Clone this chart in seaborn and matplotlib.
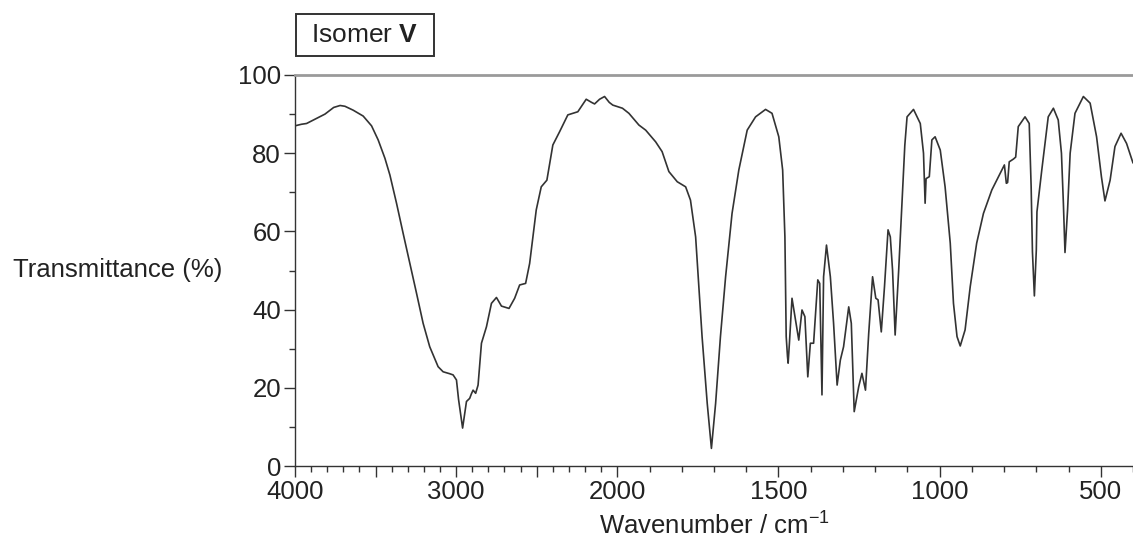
import numpy as np
import matplotlib
matplotlib.use("Agg")
import matplotlib.pyplot as plt
from matplotlib.patches import Rectangle
import seaborn as sns
import pandas as pd

# ---- data ----
wavenumber = [
    4000, 3960, 3928, 3876, 3814, 3760, 3720, 3690, 3639, 3577, 3525, 3484, 3442, 3411,
    3370, 3329, 3287, 3246, 3205, 3164, 3112, 3081, 3040, 3019, 2998, 2985, 2960, 2945,
    2936, 2916, 2905, 2895, 2879, 2864, 2843, 2812, 2781, 2750, 2719, 2672, 2637, 2606,
    2569, 2544, 2503, 2472, 2437, 2400, 2358, 2307, 2245, 2193, 2160, 2141, 2110, 2079,
    2050, 2028,
    1984, 1964, 1933, 1912, 1881, 1861, 1840, 1814, 1788, 1773, 1757, 1747, 1737, 1721,
    1708, 1695, 1680, 1664, 1644, 1623, 1597, 1571, 1540, 1520, 1499, 1487, 1480, 1476,
    1472, 1470, 1466, 1458, 1447, 1437, 1427, 1418, 1409, 1401, 1391, 1378, 1372, 1365,
    1360, 1351, 1339, 1329, 1318, 1308, 1298, 1282, 1274, 1265, 1251, 1241, 1230, 1220,
    1208, 1198, 1191, 1181, 1171, 1160, 1153, 1146, 1138, 1127, 1118, 1108, 1101, 1081,
    1060, 1050, 1047, 1045, 1042, 1032, 1024, 1014, 998, 983, 967, 957, 946, 936, 921,
    905, 885, 864, 838, 812, 799, 793, 789, 784, 771, 764, 756, 735, 722, 716, 712, 706,
    700, 698, 683, 663, 647, 632, 622, 616, 611, 603, 595, 580, 554, 533, 513, 498, 487,
    471, 456, 437, 420, 400,
]
transmittance = [
    87.0, 87.4, 87.6, 88.7, 90.0, 91.7, 92.2, 92.0, 91.0, 89.5, 87.0, 83.4, 78.7, 74.4,
    67.2, 59.5, 51.8, 44.2, 36.5, 30.5, 25.4, 24.1, 23.6, 23.3, 22.0, 17.0, 9.7, 14.0,
    16.5, 17.3, 18.5, 19.4, 18.6, 20.7, 31.4, 35.6, 41.6, 43.1, 40.9, 40.3, 42.9, 46.3,
    46.7, 51.8, 65.5, 71.4, 73.1, 82.1, 85.5, 89.8, 90.6, 93.8, 93.0, 92.6, 93.8, 94.5,
    93.0, 92.3,
    91.5, 90.2, 87.2, 85.9, 82.9, 80.4, 75.3, 72.7, 71.4, 68.0, 58.6, 45.9, 33.1, 16.0,
    4.5, 16.0, 33.1, 48.4, 64.6, 75.7, 85.9, 89.3, 91.2, 90.2, 84.2, 75.7, 58.6, 33.1,
    28.0, 26.3, 31.4, 42.9, 37.3, 32.2, 39.9, 38.2, 22.8, 31.4, 31.4, 47.6, 46.7, 18.2,
    48.4, 56.5, 48.4, 36.5, 20.7, 27.1, 30.5, 40.7, 36.5, 13.9, 20.3, 23.7, 19.4, 33.9,
    48.4, 42.9, 42.5, 34.3, 45.9, 60.4, 58.6, 50.1, 33.5, 50.1, 65.0, 82.0, 89.3, 91.2,
    87.6, 80.0, 72.0, 67.2, 73.5, 74.0, 83.4, 84.2, 80.8, 71.4, 57.0, 41.6, 33.1, 30.7, 34.8,
    45.9, 57.0, 64.6, 70.6, 74.9, 77.0, 72.3, 72.5, 77.8, 78.5, 79.0, 86.8, 89.3, 87.6, 71.4, 54.8, 43.5,
    55.2, 65.0, 75.7, 89.3, 91.5, 88.5, 80.0, 67.2, 54.6, 65.5, 80.0, 90.2, 94.5, 92.8, 84.2, 74.0, 67.8,
    73.1, 81.7, 85.1, 82.5, 77.5,
]
x_major_ticks = [4000, 3500, 3000, 2500, 2000, 1500, 1000, 500]
x_major_labels = ["4000", "", "3000", "", "2000", "1500", "1000", "500"]
y_tick_values = [0, 20, 40, 60, 80, 100]
y_minor_ticks = [10, 30, 50, 70, 90]

df = pd.DataFrame({"wn": wavenumber, "T": transmittance})

sns.set_theme(style="ticks")
plt.rcParams["font.family"] = ["Liberation Sans", "DejaVu Sans"]
plt.rcParams["mathtext.fontset"] = "custom"
plt.rcParams["mathtext.rm"] = "Liberation Sans"
plt.rcParams["mathtext.bf"] = "Liberation Sans:bold"
plt.rcParams["mathtext.default"] = "regular"

FS = 18.5
TXT = "#222222"
W, H = 1133, 541

fig = plt.figure(figsize=(W / 100, H / 100), dpi=100)
ax = fig.add_axes([295 / W, 1 - 466 / H, 838 / W, 391 / H])


def fwd(x):
    x = np.asarray(x, dtype=float)
    return np.where(x > 2000, 2000 + (x - 2000) / 2.0, x)


def inv(u):
    u = np.asarray(u, dtype=float)
    return np.where(u > 2000, 2000 + (u - 2000) * 2.0, u)


ax.set_xscale("function", functions=(fwd, inv))

sns.lineplot(data=df, x="wn", y="T", sort=False, estimator=None,
             color="#333333", linewidth=1.2, ax=ax)

ax.set_xlim(4000, 400)
ax.set_ylim(0, 100)

ax.set_xticks(x_major_ticks)
ax.set_xticklabels(x_major_labels)
minor_x = [v for v in range(4000, 399, -100) if v not in x_major_ticks]
ax.set_xticks(minor_x, minor=True)
ax.set_yticks(y_tick_values)
ax.set_yticks(y_minor_ticks, minor=True)

ax.tick_params(axis="both", which="major", direction="out", length=8, width=1.0,
               colors="#333333", labelsize=FS, labelcolor=TXT, pad=2)
ax.tick_params(axis="both", which="minor", direction="out", length=4, width=1.0,
               colors="#333333")

for s in ["left", "bottom"]:
    ax.spines[s].set_color("#333333")
    ax.spines[s].set_linewidth(1.0)
ax.spines["right"].set_visible(False)
ax.spines["top"].set_visible(True)
ax.spines["top"].set_color("#9a9a9a")
ax.spines["top"].set_linewidth(2.0)

ax.set_xlabel("Wavenumber / cm$^{\u22121}$", fontsize=FS, color=TXT, labelpad=6)
ax.set_ylabel("Transmittance (%)", fontsize=FS, color=TXT, rotation=0,
              ha="center", va="center")
ax.yaxis.set_label_coords(-0.211, 0.5)

# title box
fig.patches.append(Rectangle((296 / W, 1 - 56 / H), 138 / W, 42 / H,
                             transform=fig.transFigure, fill=True, fc="white",
                             ec="#333333", lw=1.4, zorder=3))
fig.text(365 / W, 1 - 35 / H, "Isomer $\\mathbf{V}$", fontsize=FS + 0.5, color=TXT,
         ha="center", va="center", zorder=4)

fig.savefig("out.png", dpi=100)
